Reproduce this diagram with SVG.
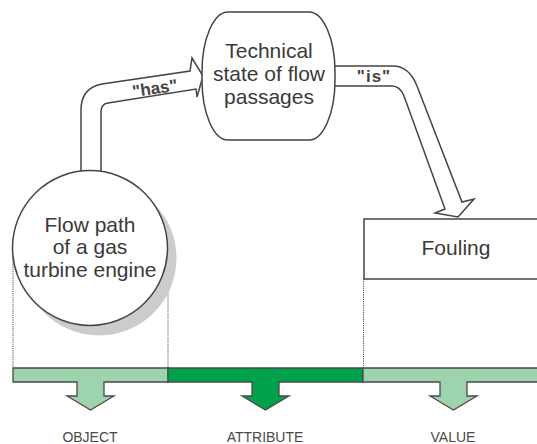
<svg xmlns="http://www.w3.org/2000/svg" width="537" height="444" viewBox="0 0 537 444">
<style>
.t{font-family:"Liberation Sans",Arial,sans-serif;fill:#3a3a3a;text-anchor:middle}
.big{font-size:21px}
.lbl{font-size:17px;font-weight:bold;fill:#444}
.cap{font-size:14px;fill:#4a4a4a}
.ln{fill:#fff;stroke:#444;stroke-width:1.5;stroke-linejoin:miter}
.dot{fill:none;stroke:#555;stroke-width:1;stroke-dasharray:1.2 1}
.bar{stroke:#4a4a4a;stroke-width:1.3}
.light{fill:#9dd3ad}
.dark{fill:#00a14b}
</style>
<rect width="537" height="444" fill="#fff"/>
<g id="guides">
<line class="dot" x1="13" y1="238" x2="13" y2="368"/>
<line class="dot" x1="168" y1="256" x2="168" y2="368"/>
<line class="dot" x1="363.5" y1="279" x2="363.5" y2="368"/>
</g>
<g id="connectors">
<path id="has" class="ln" d="M81,174 V110 Q81,88 102,84 L190,71 L192,58 L203,76 L197,97 L196,89 L108,103 Q101,104 101,112 V174"/>
<text class="t lbl" x="155" y="94" transform="rotate(-8.4 155 89)">"has"</text>
<path id="is" class="ln" d="M335,66 L393,66 Q409,66 417,86 L462,202 L474,199 L458,217 L435,213 L445,209 L404,96 Q400,86 392,86 L335,86"/>
<text class="t lbl" x="374" y="82" style="letter-spacing:1px">"is"</text>
</g>
<g id="node-object">
<circle cx="99" cy="258" r="77.5" fill="#cbccce"/>
<circle cx="90" cy="248" r="77.5" class="ln"/>
<text class="t big" x="90" y="232">Flow path</text>
<text class="t big" x="90" y="254">of a gas</text>
<text class="t big" x="90" y="277">turbine engine</text>
</g>
<g id="node-attribute">
<rect x="202" y="12" width="133" height="128" rx="26" ry="60" class="ln"/>
<text class="t big" x="269" y="58">Technical</text>
<text class="t big" x="269" y="81">state of flow</text>
<text class="t big" x="269" y="104">passages</text>
</g>
<g id="node-value">
<path class="ln" d="M540,219 H364 V279 H540"/>
<text class="t big" x="456" y="255">Fouling</text>
</g>
<g id="scale">
<path class="bar light" d="M13,368 H168 V382 H104 V396 H114 L90.5,410 L67,396 H77 V382 H13 Z"/>
<path class="bar dark" d="M168,368 H363 V382 H279 V396 H289 L265.5,410 L242,396 H252 V382 H168 Z"/>
<path class="bar light" d="M363,368 H540 V382 H467 V396 H477 L453.5,410 L430,396 H440 V382 H363 Z"/>
<text class="t cap" x="90" y="442">OBJECT</text>
<text class="t cap" x="265" y="442">ATTRIBUTE</text>
<text class="t cap" x="453" y="442">VALUE</text>
</g>
</svg>
